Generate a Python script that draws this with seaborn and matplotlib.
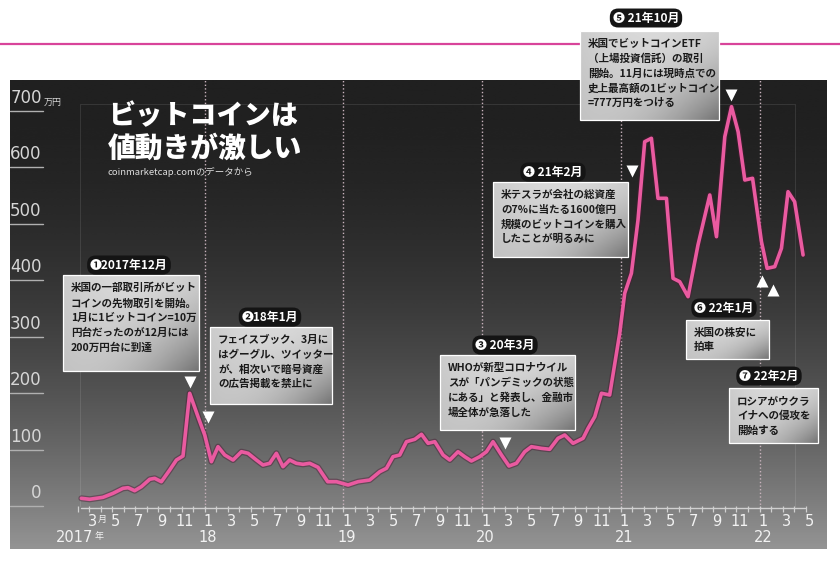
import numpy as np
import matplotlib
matplotlib.use('Agg')
import matplotlib.pyplot as plt
import matplotlib.patheffects as pe
from matplotlib.patches import Rectangle
from matplotlib import font_manager
import seaborn as sns

# Bitcoin price (coinmarketcap.com)
# t_month: months since 1 Jan 2017, price: 万円
t_month = [1.33, 2.05, 3.20, 4.07, 4.93, 5.37, 5.94, 6.52, 7.24, 7.67, 8.25, 8.97,
           9.55, 10.12, 10.70, 11.42, 12.00, 12.58, 13.15, 13.73, 14.45, 15.17, 15.75,
           16.47, 17.04, 17.62, 18.20, 18.77, 19.35, 19.93, 20.50, 21.08, 21.80, 22.64,
           23.40, 24.40, 25.26, 26.27, 27.14, 27.72, 28.29, 28.87, 29.45, 30.17, 30.75,
           31.32, 31.90, 32.62, 33.20, 33.91, 34.49, 35.07, 35.79, 36.37, 36.94, 37.67,
           38.32, 38.96, 39.68, 40.26, 41.13, 41.84, 42.56, 43.14, 43.86, 44.73, 45.16,
           45.74, 46.32, 47.03, 47.90, 48.33, 48.91, 49.48, 50.06, 50.64, 51.21, 51.94,
           52.51, 53.09, 53.81, 54.67, 55.69, 56.27, 56.99, 57.57, 58.14, 58.72, 59.39,
           60.16, 60.65, 61.31, 61.89, 62.46, 63.03, 63.76]
price = [13.6, 11.9, 15.4, 22.5, 31.3, 32.4, 27.1, 34.2, 47.3, 49.0, 43.0, 63.7,
         81.4, 88.5, 199.5, 158.0, 125.7, 78.4, 105.0, 90.3, 81.4, 96.1, 93.3,
         81.4, 72.6, 75.6, 93.3, 69.6, 81.4, 75.6, 73.8, 75.6, 68.5, 43.0,
         43.0, 37.2, 43.0, 46.0, 60.7, 66.7, 87.3, 90.3, 113.8, 118.0, 126.9,
         111.0, 113.8, 90.3, 81.4, 96.1, 87.3, 79.7, 87.3, 96.1, 113.8, 90.3,
         70.8, 75.6, 96.1, 105.0, 102.0, 100.4, 119.8, 125.7, 111.0, 119.8, 137.5,
         158.0, 199.5, 196.5, 305.7, 376.5, 411.9, 506.0, 644.8, 650.8, 544.6, 544.6,
         403.0, 397.0, 370.5, 462.0, 550.5, 476.7, 653.7, 706.8, 662.5, 577.0, 580.0,
         467.8, 420.7, 423.6, 456.1, 556.3, 538.6, 444.3]

y_ticks = [0, 100, 200, 300, 400, 500, 600, 700]
month_ticks = list(range(1, 65))          # Feb 2017 .. May 2022
year_starts = [12, 24, 36, 48, 60]
year_labels = ['18', '19', '20', '21', '22']

# event markers (month, 万円, marker)
markers = [(10.73, 220, 'v'), (12.28, 158, 'v'), (37.98, 112, 'v'), (48.96, 593, 'v'),
           (57.53, 727, 'v'), (60.21, 398, '^'), (61.16, 382, '^')]

# event notes: pill label, pill centre (px), box (px), text lines
notes = [
    ('❶2017年12月', (129, 265), (63, 275, 199, 371),
     ['米国の一部取引所がビット', 'コインの先物取引を開始。', '1月に1ビットコイン=10万',
      '円台だったのが12月には', '200万円台に到達']),
    ('❷18年1月', (270, 317), (210, 327, 332, 404),
     ['フェイスブック、3月に', 'はグーグル、ツイッター', 'が、相次いで暗号資産', 'の広告掲載を禁止に']),
    ('❸ 20年3月', (505, 345), (440, 355, 575, 430),
     ['WHOが新型コロナウイル', 'スが「パンデミックの状態', 'にある」と発表し、金融市', '場全体が急落した']),
    ('❹ 21年2月', (553, 172), (493, 182, 628, 257),
     ['米テスラが会社の総資産', 'の7%に当たる1600億円', '規模のビットコインを購入', 'したことが明るみに']),
    ('❺ 21年10月', (646, 18), (580, 31, 719, 120),
     ['米国でビットコインETF', '（上場投資信託）の取引', '開始。11月には現時点での',
      '史上最高額の1ビットコイン', '=777万円をつける']),
    ('❻ 22年1月', (724, 308), (686, 320, 769, 359), ['米国の株安に', '拍車']),
    ('❼ 22年2月', (769, 376), (729, 388, 818, 443), ['ロシアがウクラ', 'イナへの侵攻を', '開始する']),
]

sns.set_style('white')
jp = ['Noto Sans CJK JP', 'DejaVu Sans']
plt.rcParams['font.family'] = jp
names = {f.name for f in font_manager.fontManager.ttflist}
narrow = 'Liberation Sans Narrow' if 'Liberation Sans Narrow' in names else 'DejaVu Sans'

fig = plt.figure(figsize=(8.4, 5.61), dpi=100)
fig.patch.set_facecolor('white')

# main panel, limits chosen so that 0 sits at y=506px and 700 at y=110px
X0, X1 = -4.844, 65.83
Y0, Y1 = -76.1, 754.0
ax = fig.add_axes([10 / 840, 12 / 561, 817 / 840, 469 / 561])

t = np.linspace(0, 1, 256)[:, None]
shade = 0.125 + 0.455 * t ** 2
ax.imshow(np.repeat(shade, 2, axis=1), cmap='gray', vmin=0, vmax=1, origin='upper',
          extent=(X0, X1, Y0, Y1), aspect='auto', interpolation='bicubic', zorder=0)

# faint inner frame
ax.plot([1.2, 1.2, 63.1, 63.1], [0, 711, 711, 0], color='white', alpha=0.1, lw=0.8, zorder=1)

# year dividers
ax.vlines(year_starts, -3, Y1, colors='#c9b3bd', lw=1.0, linestyles=(0, (1, 1.6)), zorder=2)

# y grid stubs and labels
for v in y_ticks:
    ax.plot([X0, -2.0], [v, v], color='#b0b0b0', lw=1.0, zorder=3)
    ax.text(-2.1, v + 7, str(v), ha='right', va='bottom', color='#d6d6d6',
            fontsize=12, family=narrow, zorder=3)
ax.text(-1.95, 707, '万円', ha='left', va='bottom', color='#d6d6d6', fontsize=6.5, family=jp)

# x axis with month ticks
ax.plot([1.3, 63.9], [-3.5, -3.5], color='#d0d0d0', lw=1.0, zorder=3)
ax.vlines(month_ticks, -10, 0, colors='#d0d0d0', lw=0.9, zorder=3)
for m in range(2, 65, 2):
    ax.text(m + 0.3, -14, str(m % 12 + 1), ha='center', va='top', color='#f2f2f2',
            fontsize=10.5, family=narrow, zorder=3)
ax.text(2.75, -15.5, '月', ha='left', va='top', color='#f2f2f2', fontsize=6.5, family=jp)
for m, lab in zip(year_starts, year_labels):
    ax.text(m + 0.3, -43, lab, ha='center', va='top', color='#f2f2f2',
            fontsize=10.5, family=narrow, zorder=3)
ax.text(2.4, -43, '2017', ha='right', va='top', color='#f2f2f2', fontsize=10.5, family=narrow)
ax.text(2.5, -46, '年', ha='left', va='top', color='#f2f2f2', fontsize=6.5, family=jp)

# price line
sns.lineplot(x=t_month, y=price, ax=ax, color='#ea5aa0', lw=2.6, zorder=5,
             path_effects=[pe.Stroke(linewidth=4.4, foreground='#4a1a33', alpha=0.45),
                           pe.Normal()])

for m, v, mk in markers:
    ax.plot(m, v, marker=mk, color='white', markersize=8, mec='none', zorder=6)

ax.set_xlim(X0, X1)
ax.set_ylim(Y0, Y1)
ax.axis('off')

# overlay in pixel coordinates for titles and notes
ov = fig.add_axes([0, 0, 1, 1], zorder=3)
ov.patch.set_alpha(0)
ov.plot([0, 840], [44, 44], color='#d8449a', lw=1.6, zorder=1)

ov.text(108, 116, 'ビットコインは', color='white', fontsize=19.5, fontweight='black',
        va='center', ha='left', family=jp)
ov.text(108, 148, '値動きが激しい', color='white', fontsize=20, fontweight='black',
        va='center', ha='left', family=jp)
ov.text(108, 172, 'coinmarketcap.comのデータから', color='#dddddd', fontsize=6.8,
        va='center', ha='left', family=jp)

u = np.linspace(0, 1, 60)[None, :]
w = np.linspace(0, 1, 40)[:, None]
box_shade = 0.80 + 0.05 * np.sin(np.pi * u) - 0.30 * (u * w) ** 1.6 - 0.04 * w
for pill, (px, py), (x0, y0, x1, y1), lines in notes:
    ov.imshow(box_shade, cmap='gray', vmin=0, vmax=1, extent=(x0, x1, y1, y0),
              aspect='auto', interpolation='bicubic', zorder=4)
    ov.add_patch(Rectangle((x0, y0), x1 - x0, y1 - y0, fill=False, ec='white', lw=0.9, zorder=5))
    ov.text(x0 + 8, y0 + 8, '\n'.join(lines), ha='left', va='top', color='#1a1a1a',
            fontsize=7.6, fontweight='bold', linespacing=1.55, family=jp, zorder=6)
    ov.text(px, py, pill, ha='center', va='center', color='white', fontsize=8.6,
            fontweight='bold', family=jp, zorder=6,
            bbox=dict(boxstyle='round,pad=0.25,rounding_size=0.7', fc='#141414', ec='none'))

ov.set_xlim(0, 840)
ov.set_ylim(561, 0)
ov.axis('off')

plt.savefig('out.png', dpi=100, facecolor='white')
